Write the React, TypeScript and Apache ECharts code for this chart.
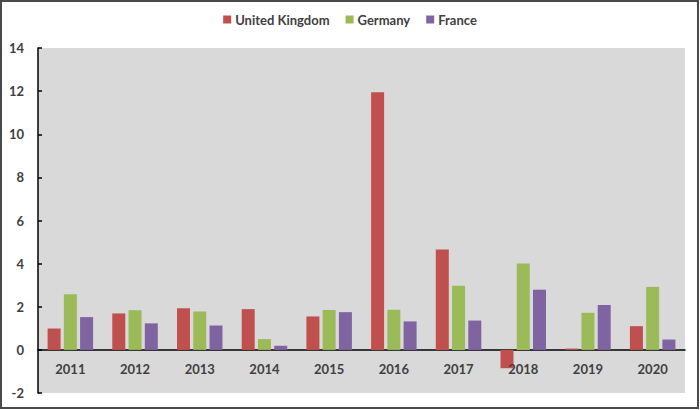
import React, { useEffect, useRef } from "react";
import * as echarts from "echarts";

const years = ["2011", "2012", "2013", "2014", "2015", "2016", "2017", "2018", "2019", "2020"];
const uk = [0.99, 1.69, 1.93, 1.89, 1.55, 11.95, 4.65, -0.85, 0.06, 1.1];
const germany = [2.58, 1.84, 1.78, 0.5, 1.85, 1.86, 2.97, 4.01, 1.72, 2.92];
const france = [1.52, 1.23, 1.13, 0.19, 1.75, 1.32, 1.36, 2.79, 2.08, 0.48];
const yTicks = { min: -2, max: 14, interval: 2 };

const FONT = "Lato, 'Open Sans', sans-serif";
const TEXT = "#404040";

export default function App() {
  const ref = useRef<HTMLDivElement>(null);
  useEffect(() => {
    if (!ref.current) return;
    const chart = echarts.init(ref.current, null, { renderer: "svg" });
    const bar = (name: string, data: number[], color: string) => ({
      name,
      type: "bar",
      data,
      barWidth: 13,
      barGap: "25%",
      itemStyle: { color },
    });
    chart.setOption({
      animation: false,
      backgroundColor: "#ffffff",
      graphic: [
        {
          type: "rect",
          shape: { x: 1, y: 1, width: 697, height: 407 },
          style: { fill: "none", stroke: "#4a4a4a", lineWidth: 2 },
          silent: true,
          z: 100,
        },
      ],
      legend: {
        top: 8,
        left: "center",
        itemWidth: 8,
        itemHeight: 8,
        itemGap: 16,
        icon: "rect",
        textStyle: { color: TEXT, fontFamily: FONT, fontWeight: "bold", fontSize: 13, padding: [0, 0, 0, -1] },
        data: ["United Kingdom", "Germany", "France"],
      },
      grid: {
        left: 38,
        right: 15,
        top: 48,
        bottom: 17,
        show: true,
        backgroundColor: "#d9d9d9",
        borderWidth: 0,
        outerBoundsMode: "none",
        containLabel: false,
      },
      xAxis: [
        {
          type: "category",
          data: years,
          axisLine: { onZero: true, lineStyle: { color: "#000000", width: 1.5 } },
          axisTick: { show: false },
          axisLabel: { show: false },
        },
        {
          type: "category",
          data: years,
          position: "bottom",
          offset: -31,
          axisLine: { show: false, onZero: false },
          axisTick: { show: false },
          axisLabel: {
            color: TEXT,
            fontFamily: FONT,
            fontWeight: "bold",
            fontSize: 13,
            margin: 0,
          },
          z: 5,
        },
      ],
      yAxis: {
        type: "value",
        min: yTicks.min,
        max: yTicks.max,
        interval: yTicks.interval,
        axisLine: { show: true, lineStyle: { color: "#000000", width: 1.5 } },
        axisTick: { show: true, inside: true, length: 4, lineStyle: { color: "#000000", width: 1.5 } },
        splitLine: { show: false },
        axisLabel: {
          color: TEXT,
          fontFamily: FONT,
          fontWeight: "bold",
          fontSize: 13,
          margin: 14,
        },
      },
      series: [
        bar("United Kingdom", uk, "#c0504d"),
        bar("Germany", germany, "#9bbb59"),
        bar("France", france, "#8064a2"),
      ],
    });
    return () => chart.dispose();
  }, []);
  return (
    <div
      ref={ref}
      style={{ position: "fixed", left: 0, top: 0, width: 700, height: 410 }}
    />
  );
}
